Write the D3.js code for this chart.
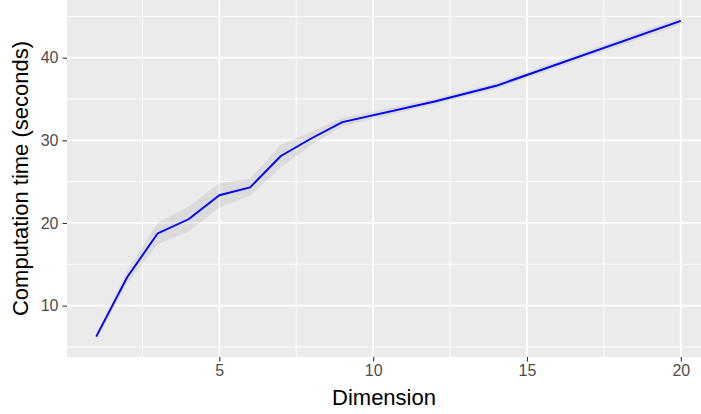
<!DOCTYPE html>
<html>
<head>
<meta charset="utf-8">
<script src="https://cdn.jsdelivr.net/npm/d3@7"></script>
<style>
  body { margin: 0; background: #fff; }
  text { font-family: "Liberation Sans", Arial, sans-serif; }
</style>
</head>
<body>
<div id="chart"></div>
<script>
const dims = [1, 2, 3, 4, 5, 6, 7, 8, 9, 12, 14, 20];
const times = [6.24, 13.4, 18.75, 20.45, 23.35, 24.3, 28.1, 30.25, 32.2, 34.7, 36.6, 44.45];
const spread = [0.3, 0.7, 1.3, 1.5, 1.45, 1.05, 1.35, 0.8, 0.5, 0.35, 0.35, 0.45];
const xTicks = [5, 10, 15, 20];
const yTicks = [10, 20, 30, 40];
const xMinor = [2.5, 7.5, 12.5, 17.5];
const yMinor = [5, 15, 25, 35, 45];

const width = 701, height = 414;
const panel = { left: 67, right: 701, top: 0, bottom: 357 };

const data = dims.map((d, i) => ({ x: d, y: times[i], lo: times[i] - spread[i], hi: times[i] + spread[i] }));

const svg = d3.select("#chart")
  .append("svg")
  .attr("width", width)
  .attr("height", height);

// ggplot-like expansion: 5% on each side
const x = d3.scaleLinear().domain([0.05, 20.95]).range([panel.left, 710]);
const y = d3.scaleLinear().domain([3.78, 46.98]).range([panel.bottom, panel.top]);

svg.append("clipPath").attr("id", "clip")
  .append("rect")
  .attr("x", panel.left).attr("y", panel.top)
  .attr("width", panel.right - panel.left)
  .attr("height", panel.bottom - panel.top);

svg.append("rect")
  .attr("x", panel.left).attr("y", panel.top)
  .attr("width", panel.right - panel.left)
  .attr("height", panel.bottom - panel.top)
  .attr("fill", "#EBEBEB");

const grid = svg.append("g").attr("clip-path", "url(#clip)");

// minor grid
grid.selectAll(".ymin").data(yMinor).enter().append("line")
  .attr("x1", panel.left).attr("x2", panel.right)
  .attr("y1", d => y(d)).attr("y2", d => y(d))
  .attr("stroke", "#fff").attr("stroke-width", 0.9);
grid.selectAll(".xmin").data(xMinor).enter().append("line")
  .attr("y1", panel.top).attr("y2", panel.bottom)
  .attr("x1", d => x(d)).attr("x2", d => x(d))
  .attr("stroke", "#fff").attr("stroke-width", 0.9);

// major grid
grid.selectAll(".ymaj").data(yTicks).enter().append("line")
  .attr("x1", panel.left).attr("x2", panel.right)
  .attr("y1", d => y(d)).attr("y2", d => y(d))
  .attr("stroke", "#fff").attr("stroke-width", 1.8);
grid.selectAll(".xmaj").data(xTicks).enter().append("line")
  .attr("y1", panel.top).attr("y2", panel.bottom)
  .attr("x1", d => x(d)).attr("x2", d => x(d))
  .attr("stroke", "#fff").attr("stroke-width", 1.8);

// ribbon
const area = d3.area()
  .x(d => x(d.x))
  .y0(d => y(d.lo))
  .y1(d => y(d.hi));

grid.append("path")
  .datum(data)
  .attr("d", area)
  .attr("fill", "#999999")
  .attr("fill-opacity", 0.2);

// line
const line = d3.line()
  .x(d => x(d.x))
  .y(d => y(d.y));

grid.append("path")
  .datum(data)
  .attr("d", line)
  .attr("fill", "none")
  .attr("stroke", "#0000FF")
  .attr("stroke-width", 1.9)
  .attr("stroke-linejoin", "round");

// axes
const xAxis = svg.append("g")
  .attr("transform", `translate(0,${panel.bottom})`)
  .call(d3.axisBottom(x).tickValues(xTicks).tickSize(4.5).tickPadding(3.5));
const yAxis = svg.append("g")
  .attr("transform", `translate(${panel.left},0)`)
  .call(d3.axisLeft(y).tickValues(yTicks).tickSize(4.5).tickPadding(4));

[xAxis, yAxis].forEach(a => {
  a.select(".domain").remove();
  a.selectAll(".tick line").attr("stroke", "#333333").attr("stroke-width", 1.1);
  a.selectAll(".tick text")
    .attr("fill", "#4D4D4D")
    .style("font-size", "16px")
    .style("font-family", "'Liberation Sans', Arial, sans-serif");
});

svg.append("text")
  .attr("x", (panel.left + panel.right) / 2)
  .attr("y", 405)
  .attr("text-anchor", "middle")
  .style("font-size", "22px")
  .attr("fill", "#000")
  .text("Dimension");

svg.append("text")
  .attr("transform", `translate(28,${(panel.top + panel.bottom) / 2}) rotate(-90)`)
  .attr("text-anchor", "middle")
  .style("font-size", "22px")
  .attr("fill", "#000")
  .text("Computation time (seconds)");
</script>
</body>
</html>
